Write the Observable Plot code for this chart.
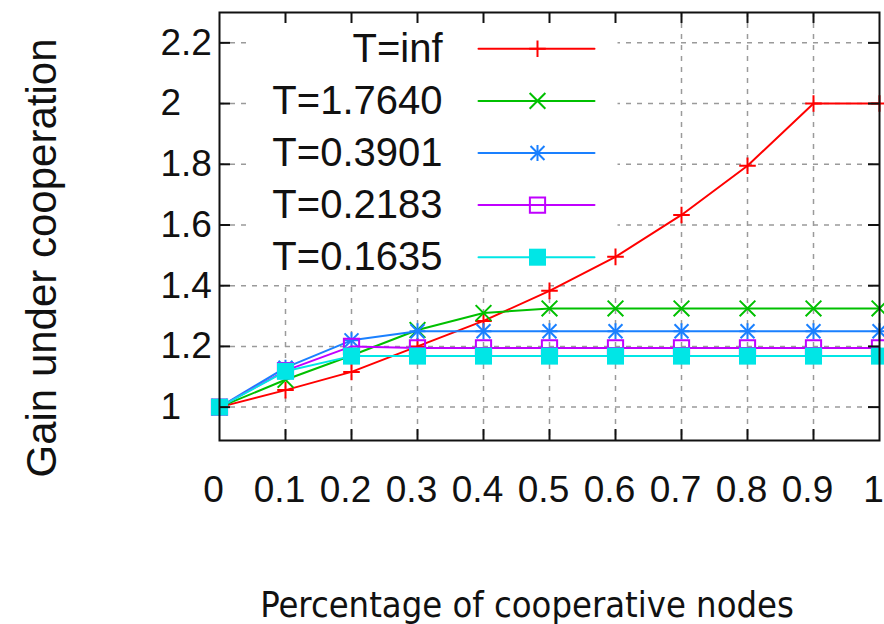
<!DOCTYPE html>
<html><head><meta charset="utf-8">
<script src="https://cdn.jsdelivr.net/npm/d3@7"></script>
<script src="https://cdn.jsdelivr.net/npm/@observablehq/plot@0.6"></script>
<style>html,body{margin:0;padding:0;background:#fff}</style>
</head><body><div id="chart"></div>
<script>
// ---- data ----
const xValues = [0, 0.1, 0.2, 0.3, 0.4, 0.5, 0.6, 0.7, 0.8, 0.9, 1];
const seriesNames = ["T=inf", "T=1.7640", "T=0.3901", "T=0.2183", "T=0.1635"];
const gainTinf  = [1.0, 1.056, 1.116, 1.20, 1.284, 1.383, 1.495, 1.633, 1.795, 2.0, 2.0];
const gainT1764 = [1.0, 1.09, 1.17, 1.254, 1.31, 1.325, 1.325, 1.325, 1.325, 1.325, 1.325];
const gainT3901 = [1.0, 1.13, 1.22, 1.25, 1.25, 1.25, 1.25, 1.25, 1.25, 1.25, 1.25];
const gainT2183 = [1.0, 1.12, 1.2, 1.195, 1.195, 1.195, 1.195, 1.195, 1.195, 1.195, 1.195];
const gainT1635 = [1.0, 1.118, 1.168, 1.168, 1.168, 1.168, 1.168, 1.168, 1.168, 1.168, 1.168];
const seriesValues = [gainTinf, gainT1764, gainT3901, gainT2183, gainT1635];
const seriesColors = ["#ff0000", "#00c000", "#1a80ff", "#c000ff", "#00e6e6"];

const xTickValues = [0, 0.1, 0.2, 0.3, 0.4, 0.5, 0.6, 0.7, 0.8, 0.9, 1];
const xTickLabels = ["0", "0.1", "0.2", "0.3", "0.4", "0.5", "0.6", "0.7", "0.8", "0.9", "1"];
const yTickValues = [1, 1.2, 1.4, 1.6, 1.8, 2, 2.2];
const yTickLabels = ["1", "1.2", "1.4", "1.6", "1.8", "2", "2.2"];
const xTitle = "Percentage of cooperative nodes";
const yTitle = "Gain under cooperation";

// ---- layout ----
const W = 884, H = 624;
const mL = 219, mR = 5, mT = 12, mB = 184;
const plotW = W - mL - mR, plotH = H - mT - mB;
const tickLen = 11;

const rows = seriesValues.flatMap((vals, i) =>
  xValues.map((x, j) => ({series: seriesNames[i], x, y: vals[j]})));

// marker styles per series (gnuplot point types)
const markerSpecs = [
  [{symbol: "plus", r: 5.4, strokeWidth: 2}],
  [{symbol: "times", r: 7.2, strokeWidth: 2}],
  [{symbol: "plus", r: 5.2, strokeWidth: 2}, {symbol: "times", r: 6.4, strokeWidth: 2}],
  [{symbol: "square", r: 8.6, strokeWidth: 2, fill: "none"}],
  [{symbol: "square", r: 9.6, filled: true}]
];

function dotOpts(spec, color, extra) {
  const o = {symbol: spec.symbol, r: spec.r, ...extra};
  if (spec.filled) { o.fill = color; o.stroke = "none"; }
  else { o.stroke = color; o.fill = "none"; o.strokeWidth = spec.strokeWidth; }
  return o;
}

const lineShape = {draw(ctx, l) { ctx.moveTo(0, 0); ctx.lineTo(0, -l); }};

const seriesMarks = seriesNames.flatMap((name, i) => {
  const data = rows.filter(d => d.series === name);
  return [
    Plot.line(data, {x: "x", y: "y", stroke: seriesColors[i], strokeWidth: 2}),
    ...markerSpecs[i].map(s => Plot.dot(data, dotOpts(s, seriesColors[i], {x: "x", y: "y"})))
  ];
});

const legendMarks = seriesNames.flatMap((name, i) => {
  const dy = 36.3 + 52.1 * i;
  return [
    Plot.text([name], {frameAnchor: "top-left", dx: 223, dy, text: d => d, textAnchor: "end",
      lineAnchor: "middle", fontSize: 40, fill: "#111"}),
    Plot.vector([name], {frameAnchor: "top-left", dx: 259, dy, rotate: 90, length: 116,
      anchor: "start", shape: lineShape, stroke: seriesColors[i], strokeWidth: 2}),
    ...markerSpecs[i].map(s => Plot.dot([name], dotOpts(s, seriesColors[i], {frameAnchor: "top-left", dx: 318, dy})))
  ];
});

const gridStyle = {stroke: "#9a9a9a", strokeOpacity: 1, strokeWidth: 1.5, strokeDasharray: "5,6"};

const chart = Plot.plot({
  width: W, height: H,
  marginLeft: mL, marginRight: mR, marginTop: mT, marginBottom: mB,
  x: {domain: [0, 1]},
  y: {domain: [0.89, 2.30]},
  style: {fontFamily: "'Liberation Sans', Arial, sans-serif", background: "#fff", color: "#111"},
  marks: [
    Plot.gridX(xTickValues.slice(1, -1), gridStyle),
    Plot.gridY(yTickValues, gridStyle),
    // opaque legend box
    Plot.frame({fill: "#fff", stroke: null, insetLeft: 29, insetRight: 262, insetTop: 1, insetBottom: 158}),
    ...seriesMarks,
    Plot.frame({stroke: "#111", strokeWidth: 2}),
    // inward ticks
    Plot.ruleX(xTickValues.slice(1, -1), {x: d => d, stroke: "#111", strokeWidth: 2, insetTop: plotH - tickLen}),
    Plot.ruleX(xTickValues.slice(1, -1), {x: d => d, stroke: "#111", strokeWidth: 2, insetBottom: plotH - tickLen}),
    Plot.ruleY(yTickValues, {y: d => d, stroke: "#111", strokeWidth: 2, insetRight: plotW - tickLen}),
    Plot.ruleY(yTickValues, {y: d => d, stroke: "#111", strokeWidth: 2, insetLeft: plotW - tickLen}),
    Plot.axisX(xTickValues, {tickSize: 0, tickPadding: 35, dx: -6, fontSize: 37, label: null,
      tickFormat: d => xTickLabels[xTickValues.indexOf(d)]}),
    Plot.axisY(yTickValues, {tickSize: 0, tickPadding: 0, textAnchor: "start", dx: -59, fontSize: 37, label: null,
      tickFormat: d => yTickLabels[yTickValues.indexOf(d)]}),
    ...legendMarks,
    Plot.text([yTitle], {frameAnchor: "left", dx: -177, dy: 31.5, rotate: -90, text: d => d,
      fontSize: 42, lineAnchor: "middle", textAnchor: "middle", fill: "#111"}),
    Plot.text([xTitle], {frameAnchor: "bottom", dx: -22.5, dy: 164.5, text: d => d,
      fontSize: 36, lineAnchor: "middle", textAnchor: "middle", fill: "#111",
      fontFamily: "'DejaVu Sans Condensed', 'DejaVu Sans', sans-serif"})
  ]
});
document.getElementById("chart").appendChild(chart);
</script>
</body></html>
